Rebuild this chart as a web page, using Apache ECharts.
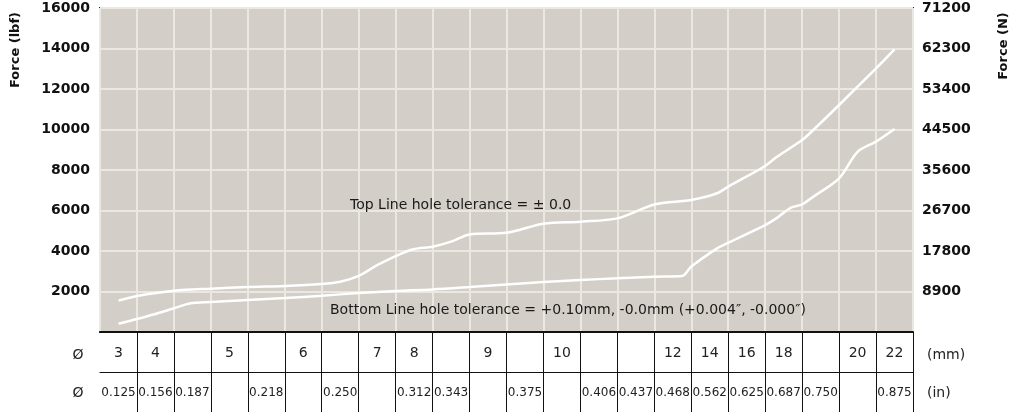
<!DOCTYPE html>
<html>
<head>
<meta charset="utf-8">
<script src="https://cdn.jsdelivr.net/npm/echarts@6/dist/echarts.min.js"></script>
<style>
  html, body { margin: 0; padding: 0; background: #fff; }
  #chart { width: 1013px; height: 412px; }
</style>
</head>
<body>
<div id="chart"></div>
<script>
  // one table column per hole size
  var mmLabels = ['3', '4', '', '5', '', '6', '', '7', '8', '', '9', '', '10', '', '', '12', '14', '16', '18', '', '20', '22'];
  var inLabels = ['0.125', '0.156', '0.187', '', '0.218', '', '0.250', '', '0.312', '0.343', '', '0.375', '', '0.406', '0.437', '0.468', '0.562', '0.625', '0.687', '0.750', '', '0.875'];

  // axis ticks
  var lbfTicks = [0, 2000, 4000, 6000, 8000, 10000, 12000, 14000, 16000];
  var newtonTicks = [0, 8900, 17800, 26700, 35600, 44500, 53400, 62300, 71200];

  // curves: x is position in table columns (0 = left edge), y is force in lbf
  var topX   = [0.5, 1, 2, 3, 4, 5, 6, 6.5, 7, 7.5, 8, 8.4, 8.6, 9, 9.5, 10, 11, 12, 13, 14, 15, 16, 16.7, 17, 18, 18.3, 19, 19.3, 20, 21, 21.5];
  var topLbf = [1550, 1780, 2040, 2140, 2220, 2270, 2370, 2480, 2770, 3300, 3750, 4050, 4130, 4210, 4460, 4820, 4900, 5350, 5450, 5610, 6300, 6520, 6850, 7180, 8200, 8630, 9480, 9975, 11210, 13020, 13960];

  var bottomX   = [0.5, 1, 1.5, 2, 2.45, 3, 4, 5, 6, 7, 8, 9, 10, 11, 12, 13, 14, 15, 15.75, 16, 16.7, 17, 18, 18.3, 18.7, 19, 19.3, 20, 20.5, 21, 21.5];
  var bottomLbf = [410, 640, 890, 1170, 1420, 1480, 1580, 1680, 1790, 1925, 2025, 2100, 2220, 2350, 2470, 2570, 2650, 2730, 2765, 3230, 4130, 4410, 5280, 5610, 6140, 6300, 6680, 7590, 8900, 9400, 10020];

  var topLineText = 'Top Line hole tolerance = \u00b1 0.0';
  var bottomLineText = 'Bottom Line hole tolerance = +0.10mm, -0.0mm (+0.004\u2033, -0.000\u2033)';

  function pairs(xs, ys) {
    return xs.map(function (x, i) { return [x, ys[i]]; });
  }

  var font = 'DejaVu Sans';
  var myChart = echarts.init(document.getElementById('chart'));

  myChart.setOption({
    animation: false,
    backgroundColor: '#fff',
    grid: {
      left: 100,
      right: 100,
      top: 8,
      bottom: 80,
      show: true,
      backgroundColor: '#d3cec7',
      borderColor: '#222',
      borderWidth: 2
    },
    xAxis: [
      {
        // data axis, columns 0..22
        type: 'value',
        min: 0,
        max: mmLabels.length,
        interval: 1,
        axisLine: { show: false },
        axisTick: { show: false },
        axisLabel: { show: false },
        splitLine: { show: true, lineStyle: { color: '#ebe8e2', width: 2 } }
      },
      {
        // mm row of the table
        type: 'category',
        position: 'bottom',
        data: mmLabels,
        axisLine: { show: true, lineStyle: { color: '#111', width: 2 } },
        axisTick: {
          show: true,
          length: 40,
          interval: function (index) { return index > 0; },
          lineStyle: { color: '#111', width: 1 }
        },
        axisLabel: {
          interval: 0,
          margin: 14,
          color: '#222',
          fontFamily: font,
          fontSize: 14
        },
        splitLine: { show: false }
      },
      {
        // inch row of the table
        type: 'category',
        position: 'bottom',
        offset: 40,
        data: inLabels,
        axisLine: { show: true, lineStyle: { color: '#111', width: 1 } },
        axisTick: {
          show: true,
          length: 40,
          interval: function (index) { return index > 0; },
          lineStyle: { color: '#111', width: 1 }
        },
        axisLabel: {
          interval: 0,
          margin: 15,
          color: '#222',
          fontFamily: font,
          fontSize: 12
        },
        splitLine: { show: false }
      }
    ],
    yAxis: [
      {
        type: 'value',
        position: 'left',
        min: lbfTicks[0],
        max: lbfTicks[lbfTicks.length - 1],
        interval: lbfTicks[1] - lbfTicks[0],
        axisLine: { show: false },
        axisTick: { show: false },
        axisLabel: {
          margin: 10,
          color: '#111',
          fontFamily: font,
          fontWeight: 'bold',
          fontSize: 14,
          padding: [4, 0, 0, 0],
          formatter: function (v) { return v === 0 ? '' : String(v); }
        },
        splitLine: { show: true, lineStyle: { color: '#ebe8e2', width: 2 } }
      },
      {
        type: 'value',
        position: 'right',
        min: newtonTicks[0],
        max: newtonTicks[newtonTicks.length - 1],
        interval: newtonTicks[1] - newtonTicks[0],
        axisLine: { show: false },
        axisTick: { show: false },
        axisLabel: {
          margin: 9,
          color: '#111',
          fontFamily: font,
          fontWeight: 'bold',
          fontSize: 14,
          padding: [4, 0, 0, 0],
          formatter: function (v) { return v === 0 ? '' : String(v); }
        },
        splitLine: { show: false }
      }
    ],
    series: [
      {
        name: 'top',
        type: 'line',
        xAxisIndex: 0,
        yAxisIndex: 0,
        data: pairs(topX, topLbf),
        smooth: 0.3,
        symbol: 'none',
        lineStyle: { color: '#fff', width: 2.5 }
      },
      {
        name: 'bottom',
        type: 'line',
        xAxisIndex: 0,
        yAxisIndex: 0,
        data: pairs(bottomX, bottomLbf),
        smooth: 0.3,
        symbol: 'none',
        lineStyle: { color: '#fff', width: 2.5 }
      }
    ],
    graphic: [
      {
        type: 'text', x: 16, y: 50, rotation: Math.PI / 2, z: 100,
        style: { text: 'Force (lbf)', fill: '#111', font: 'bold 13px ' + font, textAlign: 'center', textVerticalAlign: 'middle' }
      },
      {
        type: 'text', x: 1004, y: 46, rotation: Math.PI / 2, z: 100,
        style: { text: 'Force (N)', fill: '#111', font: 'bold 13px ' + font, textAlign: 'center', textVerticalAlign: 'middle' }
      },
      {
        type: 'text', x: 78, y: 355, z: 100,
        style: { text: '\u00d8', fill: '#222', font: '14px ' + font, textAlign: 'center', textVerticalAlign: 'middle' }
      },
      {
        type: 'text', x: 78, y: 393, z: 100,
        style: { text: '\u00d8', fill: '#222', font: '14px ' + font, textAlign: 'center', textVerticalAlign: 'middle' }
      },
      {
        type: 'text', x: 927, y: 355, z: 100,
        style: { text: '(mm)', fill: '#222', font: '14px ' + font, textAlign: 'left', textVerticalAlign: 'middle' }
      },
      {
        type: 'text', x: 927, y: 393, z: 100,
        style: { text: '(in)', fill: '#222', font: '14px ' + font, textAlign: 'left', textVerticalAlign: 'middle' }
      },
      {
        type: 'text', x: 350, y: 205, z: 100,
        style: { text: topLineText, fill: '#1a1a1a', font: '14px ' + font, textAlign: 'left', textVerticalAlign: 'middle' }
      },
      {
        type: 'text', x: 330, y: 310, z: 100,
        style: { text: bottomLineText, fill: '#1a1a1a', font: '14px ' + font, textAlign: 'left', textVerticalAlign: 'middle' }
      }
    ]
  });
</script>
</body>
</html>
